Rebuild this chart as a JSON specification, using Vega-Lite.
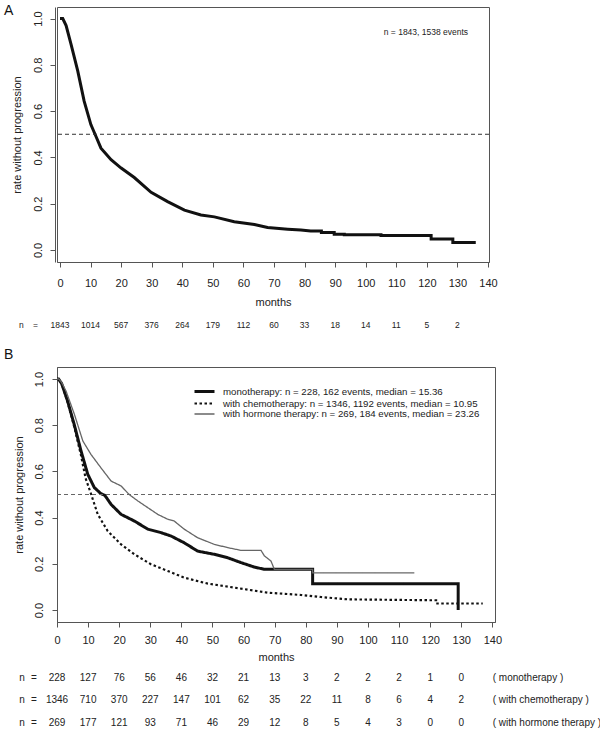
{
  "$schema": "https://vega.github.io/schema/vega-lite/v6.json",
  "background": "white",
  "padding": {"left": 3, "top": 3, "right": 0, "bottom": 0},
  "config": {
    "font": "Liberation Sans",
    "view": {"stroke": "#555", "strokeWidth": 1},
    "axis": {"grid": false, "domainColor": "#555", "tickColor": "#555", "labelColor": "#222", "titleColor": "#222", "labelFontSize": 11, "titleFontSize": 11, "titleFontWeight": "normal", "labelFlush": false, "labelOverlap": false, "tickSize": 5, "domainWidth": 1, "tickWidth": 1},
    "text": {"color": "#222"}
  },
  "bounds": "flush",
  "spacing": 0,
  "resolve": {
    "scale": {"color": "independent", "strokeDash": "independent", "strokeWidth": "independent"},
    "legend": {"color": "independent", "strokeDash": "independent", "strokeWidth": "independent"}
  },
  "vconcat": [
    {
      "width": 432,
      "height": 255,
      "title": {"text": "A", "anchor": "start", "frame": "group", "fontSize": 14, "fontWeight": "normal", "color": "#111", "dx": -53, "offset": -11},
      "layer": [
        {
          "data": {"values": [
            {"month": 0, "rate": 1}, {"month": 0.9, "rate": 1}, {"month": 2, "rate": 0.97}, {"month": 3.6, "rate": 0.89},
            {"month": 5.8, "rate": 0.774}, {"month": 7.9, "rate": 0.643}, {"month": 10.1, "rate": 0.542}, {"month": 11.5, "rate": 0.499},
            {"month": 13.4, "rate": 0.44}, {"month": 16.7, "rate": 0.39}, {"month": 20, "rate": 0.354}, {"month": 24.3, "rate": 0.313},
            {"month": 29.8, "rate": 0.249}, {"month": 35.2, "rate": 0.209}, {"month": 40.7, "rate": 0.172}, {"month": 46.1, "rate": 0.151},
            {"month": 50.5, "rate": 0.143}, {"month": 57, "rate": 0.122}, {"month": 63.6, "rate": 0.11}, {"month": 67.9, "rate": 0.097},
            {"month": 74.5, "rate": 0.09}, {"month": 78.8, "rate": 0.086}, {"month": 82, "rate": 0.082}, {"month": 85.5, "rate": 0.082},
            {"month": 85.5, "rate": 0.076}, {"month": 89.7, "rate": 0.076}, {"month": 89.7, "rate": 0.068}, {"month": 93, "rate": 0.068},
            {"month": 93, "rate": 0.066}, {"month": 105, "rate": 0.066}, {"month": 105, "rate": 0.062}, {"month": 121.4, "rate": 0.062},
            {"month": 121.4, "rate": 0.047}, {"month": 128.5, "rate": 0.047}, {"month": 128.5, "rate": 0.032}, {"month": 136, "rate": 0.032}
          ]},
          "mark": {"type": "line", "color": "#111", "strokeWidth": 3},
          "encoding": {
            "x": {"field": "month", "type": "quantitative", "scale": {"domain": [-0.98, 140.33], "nice": false, "zero": false},
                  "axis": {"title": "months", "values": [0,10,20,30,40,50,60,70,80,90,100,110,120,130,140], "offset": 0, "labelPadding": 10, "titlePadding": 8}},
            "y": {"field": "rate", "type": "quantitative", "scale": {"domain": [-0.052, 1.05], "nice": false, "zero": false},
                  "axis": {"title": "rate without progression", "values": [0,0.2,0.4,0.6,0.8,1], "format": ".1f", "labelAngle": -90, "labelAlign": "center", "labelBaseline": "bottom", "offset": 2, "labelPadding": 7, "titlePadding": 10}}
          }
        },
        {
          "data": {"values": [{"rate": 0.5}]},
          "mark": {"type": "rule", "strokeDash": [4, 3], "color": "#333", "strokeWidth": 1},
          "encoding": {"y": {"field": "rate", "type": "quantitative",
                  "axis": {"title": "rate without progression", "values": [0,0.2,0.4,0.6,0.8,1], "format": ".1f", "labelAngle": -90, "labelAlign": "center", "labelBaseline": "bottom", "offset": 2, "labelPadding": 7, "titlePadding": 10}}}
        },
        {
          "data": {"values": [{"month": 133.5, "rate": 0.944, "label": "n = 1843, 1538 events"}]},
          "mark": {"type": "text", "align": "right", "baseline": "middle", "fontSize": 8.5},
          "encoding": {
            "x": {"field": "month", "type": "quantitative",
                  "axis": {"title": "months", "values": [0,10,20,30,40,50,60,70,80,90,100,110,120,130,140], "offset": 0, "labelPadding": 10, "titlePadding": 8}},
            "y": {"field": "rate", "type": "quantitative",
                  "axis": {"title": "rate without progression", "values": [0,0.2,0.4,0.6,0.8,1], "format": ".1f", "labelAngle": -90, "labelAlign": "center", "labelBaseline": "bottom", "offset": 2, "labelPadding": 7, "titlePadding": 10}},
            "text": {"field": "label"}
          }
        }
      ]
    },
    {
      "width": 432,
      "height": 105,
      "view": {"stroke": null},
      "data": {"values": [
        {"row": "all", "month": -12.6, "n": "n"}, {"row": "all", "month": -8.0, "n": "="},
        {"row": "all", "month": 0, "n": "1843"}, {"row": "all", "month": 10, "n": "1014"}, {"row": "all", "month": 20, "n": "567"}, {"row": "all", "month": 30, "n": "376"},
        {"row": "all", "month": 40, "n": "264"}, {"row": "all", "month": 50, "n": "179"}, {"row": "all", "month": 60, "n": "112"}, {"row": "all", "month": 70, "n": "60"},
        {"row": "all", "month": 80, "n": "33"}, {"row": "all", "month": 90, "n": "18"}, {"row": "all", "month": 100, "n": "14"}, {"row": "all", "month": 110, "n": "11"},
        {"row": "all", "month": 120, "n": "5"}, {"row": "all", "month": 130, "n": "2"}
      ]},
      "mark": {"type": "text", "fontSize": 8.5, "align": "center", "baseline": "middle"},
      "encoding": {
        "x": {"field": "month", "type": "quantitative", "scale": {"domain": [-0.98, 140.33], "nice": false, "zero": false}, "axis": null},
        "y": {"field": "row", "type": "nominal", "scale": {"type": "band", "paddingInner": 0, "paddingOuter": 0.125, "align": 1}, "axis": null},
        "text": {"field": "n"}
      }
    },
    {
      "width": 438,
      "height": 255,
      "title": {"text": "B", "anchor": "start", "frame": "group", "fontSize": 14, "fontWeight": "normal", "color": "#111", "dx": -53, "offset": 5},
      "layer": [
        {
          "data": {"values": [
            {"g": "mono", "m": 0, "r": 1}, {"g": "mono", "m": 0.5, "r": 1}, {"g": "mono", "m": 1.5, "r": 0.98}, {"g": "mono", "m": 3.4, "r": 0.905},
            {"g": "mono", "m": 5.6, "r": 0.8}, {"g": "mono", "m": 7.7, "r": 0.69}, {"g": "mono", "m": 9.9, "r": 0.587}, {"g": "mono", "m": 12, "r": 0.53},
            {"g": "mono", "m": 14.1, "r": 0.504}, {"g": "mono", "m": 15.4, "r": 0.496}, {"g": "mono", "m": 17.4, "r": 0.457}, {"g": "mono", "m": 20.6, "r": 0.414},
            {"g": "mono", "m": 24.9, "r": 0.385}, {"g": "mono", "m": 29.2, "r": 0.35}, {"g": "mono", "m": 33.4, "r": 0.335}, {"g": "mono", "m": 36.7, "r": 0.32},
            {"g": "mono", "m": 40.9, "r": 0.291}, {"g": "mono", "m": 45.2, "r": 0.255}, {"g": "mono", "m": 50.6, "r": 0.241}, {"g": "mono", "m": 54.9, "r": 0.226},
            {"g": "mono", "m": 59.2, "r": 0.205}, {"g": "mono", "m": 63.4, "r": 0.186}, {"g": "mono", "m": 66.7, "r": 0.176}, {"g": "mono", "m": 82.2, "r": 0.176},
            {"g": "mono", "m": 82.2, "r": 0.114}, {"g": "mono", "m": 129, "r": 0.114}, {"g": "mono", "m": 129, "r": 0},
            {"g": "chemo", "m": 0, "r": 1}, {"g": "chemo", "m": 0.5, "r": 1}, {"g": "chemo", "m": 1.5, "r": 0.98}, {"g": "chemo", "m": 3.4, "r": 0.9},
            {"g": "chemo", "m": 5.6, "r": 0.79}, {"g": "chemo", "m": 7.7, "r": 0.67}, {"g": "chemo", "m": 9.2, "r": 0.57}, {"g": "chemo", "m": 11, "r": 0.5},
            {"g": "chemo", "m": 13.1, "r": 0.414}, {"g": "chemo", "m": 16.3, "r": 0.342}, {"g": "chemo", "m": 20.6, "r": 0.284}, {"g": "chemo", "m": 24.9, "r": 0.241},
            {"g": "chemo", "m": 30.2, "r": 0.198}, {"g": "chemo", "m": 35.6, "r": 0.169}, {"g": "chemo", "m": 40.9, "r": 0.14}, {"g": "chemo", "m": 48.5, "r": 0.114},
            {"g": "chemo", "m": 57, "r": 0.097}, {"g": "chemo", "m": 67.7, "r": 0.075}, {"g": "chemo", "m": 78.5, "r": 0.065}, {"g": "chemo", "m": 84.9, "r": 0.056},
            {"g": "chemo", "m": 93.5, "r": 0.046}, {"g": "chemo", "m": 121.9, "r": 0.042}, {"g": "chemo", "m": 121.9, "r": 0.028}, {"g": "chemo", "m": 136.9, "r": 0.028},
            {"g": "hormone", "m": 0, "r": 1}, {"g": "hormone", "m": 0.6, "r": 1}, {"g": "hormone", "m": 1.5, "r": 0.985}, {"g": "hormone", "m": 2.9, "r": 0.948},
            {"g": "hormone", "m": 5.6, "r": 0.847}, {"g": "hormone", "m": 8.3, "r": 0.732}, {"g": "hormone", "m": 10.9, "r": 0.674}, {"g": "hormone", "m": 14.1, "r": 0.616},
            {"g": "hormone", "m": 17.4, "r": 0.558}, {"g": "hormone", "m": 20.6, "r": 0.537}, {"g": "hormone", "m": 23.2, "r": 0.5}, {"g": "hormone", "m": 26, "r": 0.472},
            {"g": "hormone", "m": 29.2, "r": 0.443}, {"g": "hormone", "m": 32.4, "r": 0.414}, {"g": "hormone", "m": 35.6, "r": 0.393}, {"g": "hormone", "m": 37.7, "r": 0.385},
            {"g": "hormone", "m": 40.9, "r": 0.35}, {"g": "hormone", "m": 45.2, "r": 0.313}, {"g": "hormone", "m": 50.6, "r": 0.284}, {"g": "hormone", "m": 54.9, "r": 0.27},
            {"g": "hormone", "m": 59.2, "r": 0.258}, {"g": "hormone", "m": 65.6, "r": 0.258}, {"g": "hormone", "m": 66.7, "r": 0.234}, {"g": "hormone", "m": 68.8, "r": 0.212},
            {"g": "hormone", "m": 69.9, "r": 0.176}, {"g": "hormone", "m": 82.2, "r": 0.176}, {"g": "hormone", "m": 82.2, "r": 0.161}, {"g": "hormone", "m": 114.9, "r": 0.161}
          ]},
          "mark": {"type": "line"},
          "encoding": {
            "x": {"field": "m", "type": "quantitative", "scale": {"domain": [0, 140.84], "nice": false, "zero": false},
                  "axis": {"title": "months", "values": [0,10,20,30,40,50,60,70,80,90,100,110,120,130,140], "offset": 0, "labelPadding": 7, "titlePadding": 6}},
            "y": {"field": "r", "type": "quantitative", "scale": {"domain": [-0.052, 1.052], "nice": false, "zero": false},
                  "axis": {"title": "rate without progression", "values": [0,0.2,0.4,0.6,0.8,1], "format": ".1f", "labelAngle": -90, "labelAlign": "center", "labelBaseline": "bottom", "offset": 0, "labelPadding": 8, "titlePadding": 9}},
            "color": {"field": "g", "type": "nominal", "scale": {"domain": ["mono", "chemo", "hormone"], "range": ["#111111", "#111111", "#666666"]},
              "legend": {"title": null, "orient": "none", "legendX": 142, "legendY": 19, "symbolType": "M-2.5,0H2.5", "symbolSize": 64, "labelFontSize": 9.7, "labelOffset": 13, "rowPadding": -2, "padding": 0, "labelColor": "#222", "labelLimit": 0,
                "labelExpr": "datum.label == 'mono' ? 'monotherapy: n = 228, 162 events, median = 15.36' : datum.label == 'chemo' ? 'with chemotherapy: n = 1346, 1192 events, median = 10.95' : 'with hormone therapy: n = 269, 184 events, median = 23.26'"}},
            "strokeDash": {"field": "g", "type": "nominal", "scale": {"domain": ["mono", "chemo", "hormone"], "range": [[1, 0], [2.5, 2.5], [1, 0]]},
              "legend": {"title": null, "orient": "none", "legendX": 142, "legendY": 19, "symbolType": "M-2.5,0H2.5", "symbolSize": 64, "labelFontSize": 9.7, "labelOffset": 13, "rowPadding": -2, "padding": 0, "labelColor": "#222", "labelLimit": 0,
                "labelExpr": "datum.label == 'mono' ? 'monotherapy: n = 228, 162 events, median = 15.36' : datum.label == 'chemo' ? 'with chemotherapy: n = 1346, 1192 events, median = 10.95' : 'with hormone therapy: n = 269, 184 events, median = 23.26'"}},
            "strokeWidth": {"field": "g", "type": "nominal", "scale": {"type": "point", "domain": ["mono", "chemo", "hormone"], "range": [3, 1.3], "padding": 0},
              "legend": {"title": null, "orient": "none", "legendX": 142, "legendY": 19, "symbolType": "M-2.5,0H2.5", "symbolSize": 64, "labelFontSize": 9.7, "labelOffset": 13, "rowPadding": -2, "padding": 0, "labelColor": "#222", "labelLimit": 0,
                "labelExpr": "datum.label == 'mono' ? 'monotherapy: n = 228, 162 events, median = 15.36' : datum.label == 'chemo' ? 'with chemotherapy: n = 1346, 1192 events, median = 10.95' : 'with hormone therapy: n = 269, 184 events, median = 23.26'"}}
          }
        },
        {
          "data": {"values": [{"r": 0.5}]},
          "mark": {"type": "rule", "strokeDash": [4, 3], "color": "#666", "strokeWidth": 1.2},
          "encoding": {"y": {"field": "r", "type": "quantitative",
                  "axis": {"title": "rate without progression", "values": [0,0.2,0.4,0.6,0.8,1], "format": ".1f", "labelAngle": -90, "labelAlign": "center", "labelBaseline": "bottom", "offset": 0, "labelPadding": 8, "titlePadding": 9}}}
        }
      ]
    },
    {
      "width": 438,
      "height": 112,
      "view": {"stroke": null},
      "data": {"values": [
        {"row": "mono", "month": -11.25, "n": "n"}, {"row": "mono", "month": -7.4, "n": "="},
        {"row": "mono", "month": 0, "n": "228"}, {"row": "mono", "month": 10, "n": "127"}, {"row": "mono", "month": 20, "n": "76"}, {"row": "mono", "month": 30, "n": "56"},
        {"row": "mono", "month": 40, "n": "46"}, {"row": "mono", "month": 50, "n": "32"}, {"row": "mono", "month": 60, "n": "21"}, {"row": "mono", "month": 70, "n": "13"},
        {"row": "mono", "month": 80, "n": "3"}, {"row": "mono", "month": 90, "n": "2"}, {"row": "mono", "month": 100, "n": "2"}, {"row": "mono", "month": 110, "n": "2"},
        {"row": "mono", "month": 120, "n": "1"}, {"row": "mono", "month": 130, "n": "0"},
        {"row": "chemo", "month": -11.25, "n": "n"}, {"row": "chemo", "month": -7.4, "n": "="},
        {"row": "chemo", "month": 0, "n": "1346"}, {"row": "chemo", "month": 10, "n": "710"}, {"row": "chemo", "month": 20, "n": "370"}, {"row": "chemo", "month": 30, "n": "227"},
        {"row": "chemo", "month": 40, "n": "147"}, {"row": "chemo", "month": 50, "n": "101"}, {"row": "chemo", "month": 60, "n": "62"}, {"row": "chemo", "month": 70, "n": "35"},
        {"row": "chemo", "month": 80, "n": "22"}, {"row": "chemo", "month": 90, "n": "11"}, {"row": "chemo", "month": 100, "n": "8"}, {"row": "chemo", "month": 110, "n": "6"},
        {"row": "chemo", "month": 120, "n": "4"}, {"row": "chemo", "month": 130, "n": "2"},
        {"row": "hormone", "month": -11.25, "n": "n"}, {"row": "hormone", "month": -7.4, "n": "="},
        {"row": "hormone", "month": 0, "n": "269"}, {"row": "hormone", "month": 10, "n": "177"}, {"row": "hormone", "month": 20, "n": "121"}, {"row": "hormone", "month": 30, "n": "93"},
        {"row": "hormone", "month": 40, "n": "71"}, {"row": "hormone", "month": 50, "n": "46"}, {"row": "hormone", "month": 60, "n": "29"}, {"row": "hormone", "month": 70, "n": "12"},
        {"row": "hormone", "month": 80, "n": "8"}, {"row": "hormone", "month": 90, "n": "5"}, {"row": "hormone", "month": 100, "n": "4"}, {"row": "hormone", "month": 110, "n": "3"},
        {"row": "hormone", "month": 120, "n": "0"}, {"row": "hormone", "month": 130, "n": "0"}
      ]},
      "layer": [
        {
          "mark": {"type": "text", "fontSize": 10, "align": "center", "baseline": "middle"},
          "encoding": {
            "x": {"field": "month", "type": "quantitative", "scale": {"domain": [0, 140.84], "nice": false, "zero": false}, "axis": null},
            "y": {"field": "row", "type": "nominal", "scale": {"type": "band", "domain": ["mono", "chemo", "hormone"], "paddingInner": 0, "paddingOuter": 1.23, "align": 1}, "axis": null},
            "text": {"field": "n"}
          }
        },
        {
          "data": {"values": [
            {"row": "mono", "month": 140.1, "label": "( monotherapy )"},
            {"row": "chemo", "month": 140.1, "label": "( with chemotherapy )"},
            {"row": "hormone", "month": 140.1, "label": "( with hormone therapy )"}
          ]},
          "mark": {"type": "text", "fontSize": 10, "align": "left", "baseline": "middle"},
          "encoding": {
            "x": {"field": "month", "type": "quantitative", "axis": null},
            "y": {"field": "row", "type": "nominal", "axis": null},
            "text": {"field": "label"}
          }
        }
      ]
    }
  ]
}
